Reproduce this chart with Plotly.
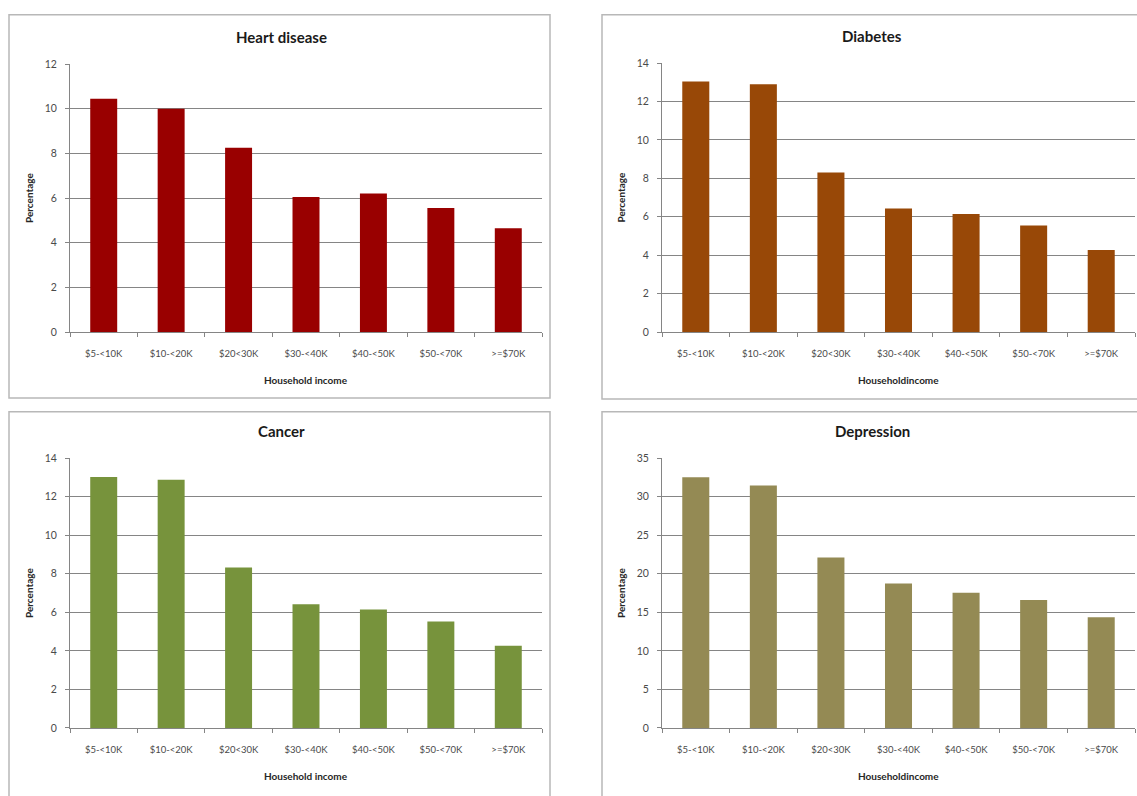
import plotly.graph_objects as go

W, H = 1137, 796

categories = ["$5-<10K", "$10-<20K", "$20<30K", "$30-<40K", "$40-<50K", "$50-<70K", ">=$70K"]
heart_disease = [10.45, 10.0, 8.25, 6.05, 6.2, 5.55, 4.65]
diabetes = [13.05, 12.9, 8.3, 6.43, 6.15, 5.55, 4.27]
cancer = [13.02, 12.88, 8.32, 6.42, 6.15, 5.52, 4.27]
depression = [32.5, 31.45, 22.1, 18.75, 17.55, 16.6, 14.35]

titles = ["Heart disease", "Diabetes", "Cancer", "Depression"]
series = [heart_disease, diabetes, cancer, depression]
colors = ["#990000", "#984807", "#77933C", "#948A54"]
y_max = [12, 14, 14, 35]
y_step = [2, 2, 2, 5]
x_titles = ["Household income", "Householdincome", "Household income", "Householdincome"]


def px_x(v):
    return v / W


def px_y(v):
    return 1 - v / H


# plot areas in pixels: (left, right, top, bottom)
areas = [(70, 542, 59, 331), (662, 1135, 58, 331), (70, 542, 459, 733), (662, 1135, 459, 733)]
# panel boxes in pixels: (left, right, top, bottom)
boxes = [(9, 550, 9, 398), (602, 1160, 9, 399), (9, 550, 412, 820), (602, 1160, 412, 820)]

FONT = "Lato"
GRID = "#858585"
TICKC = "#4a4a4a"

fig = go.Figure()
layout = dict(
    width=W, height=H,
    margin=dict(l=0, r=0, t=0, b=0),
    paper_bgcolor="white", plot_bgcolor="white",
    showlegend=False,
    font=dict(family=FONT, color=TICKC),
    shapes=[], annotations=[],
)

for i in range(4):
    n = "" if i == 0 else str(i + 1)
    l, r, t, b = areas[i]
    fig.add_trace(go.Bar(
        x=categories, y=series[i], marker=dict(color=colors[i], line=dict(width=0)),
        xaxis="x" + n, yaxis="y" + n, hoverinfo="x+y",
    ))
    layout["xaxis" + n] = dict(
        domain=[px_x(l), px_x(r)], anchor="y" + n,
        type="category", showline=True, linecolor=GRID, linewidth=1,
        ticks="outside", tickson="boundaries", ticklen=4, tickcolor=GRID,
        ticklabelstandoff=13,
        showgrid=False, tickfont=dict(size=9.5, color=TICKC), tickangle=0,
        fixedrange=True,
    )
    layout["yaxis" + n] = dict(
        domain=[px_y(b), px_y(t)], anchor="x" + n,
        range=[0, y_max[i]], dtick=y_step[i], tick0=0,
        showline=True, linecolor=GRID, linewidth=1,
        ticks="outside", ticklen=4, tickcolor=GRID,
        ticklabelstandoff=6,
        showgrid=True, gridcolor=GRID, gridwidth=1, zeroline=False,
        tickfont=dict(size=10.5, color=TICKC), fixedrange=True,
    )
    bl, br, bt, bb = boxes[i]
    layout["shapes"].append(dict(
        type="rect", xref="paper", yref="paper",
        x0=px_x(bl), x1=px_x(br), y0=px_y(bb), y1=px_y(bt),
        line=dict(color="#b8b8b8", width=1.5), fillcolor="rgba(0,0,0,0)", layer="below",
    ))
    # chart title
    layout["annotations"].append(dict(
        text="<b>" + titles[i] + "</b>", xref="paper", yref="paper",
        x=px_x(281 if i % 2 == 0 else 872), y=px_y(t - 28), xanchor="center", yanchor="middle",
        showarrow=False, font=dict(size=15, color="#1a1a1a", family=FONT),
    ))
    # y axis title
    layout["annotations"].append(dict(
        text="<b>Percentage</b>", xref="paper", yref="paper",
        x=px_x(l - 41), y=px_y((t + b) / 2), xanchor="center", yanchor="middle",
        textangle=-90, showarrow=False, font=dict(size=10, color="#262626", family=FONT),
    ))
    # x axis title
    layout["annotations"].append(dict(
        text="<b>" + x_titles[i] + "</b>", xref="paper", yref="paper",
        x=px_x((l + r) / 2), y=px_y(b + 49), xanchor="center", yanchor="middle",
        showarrow=False, font=dict(size=10, color="#262626", family=FONT),
    ))

layout["bargap"] = 0.6
fig.update_layout(**layout)
fig.write_html("out.html")
